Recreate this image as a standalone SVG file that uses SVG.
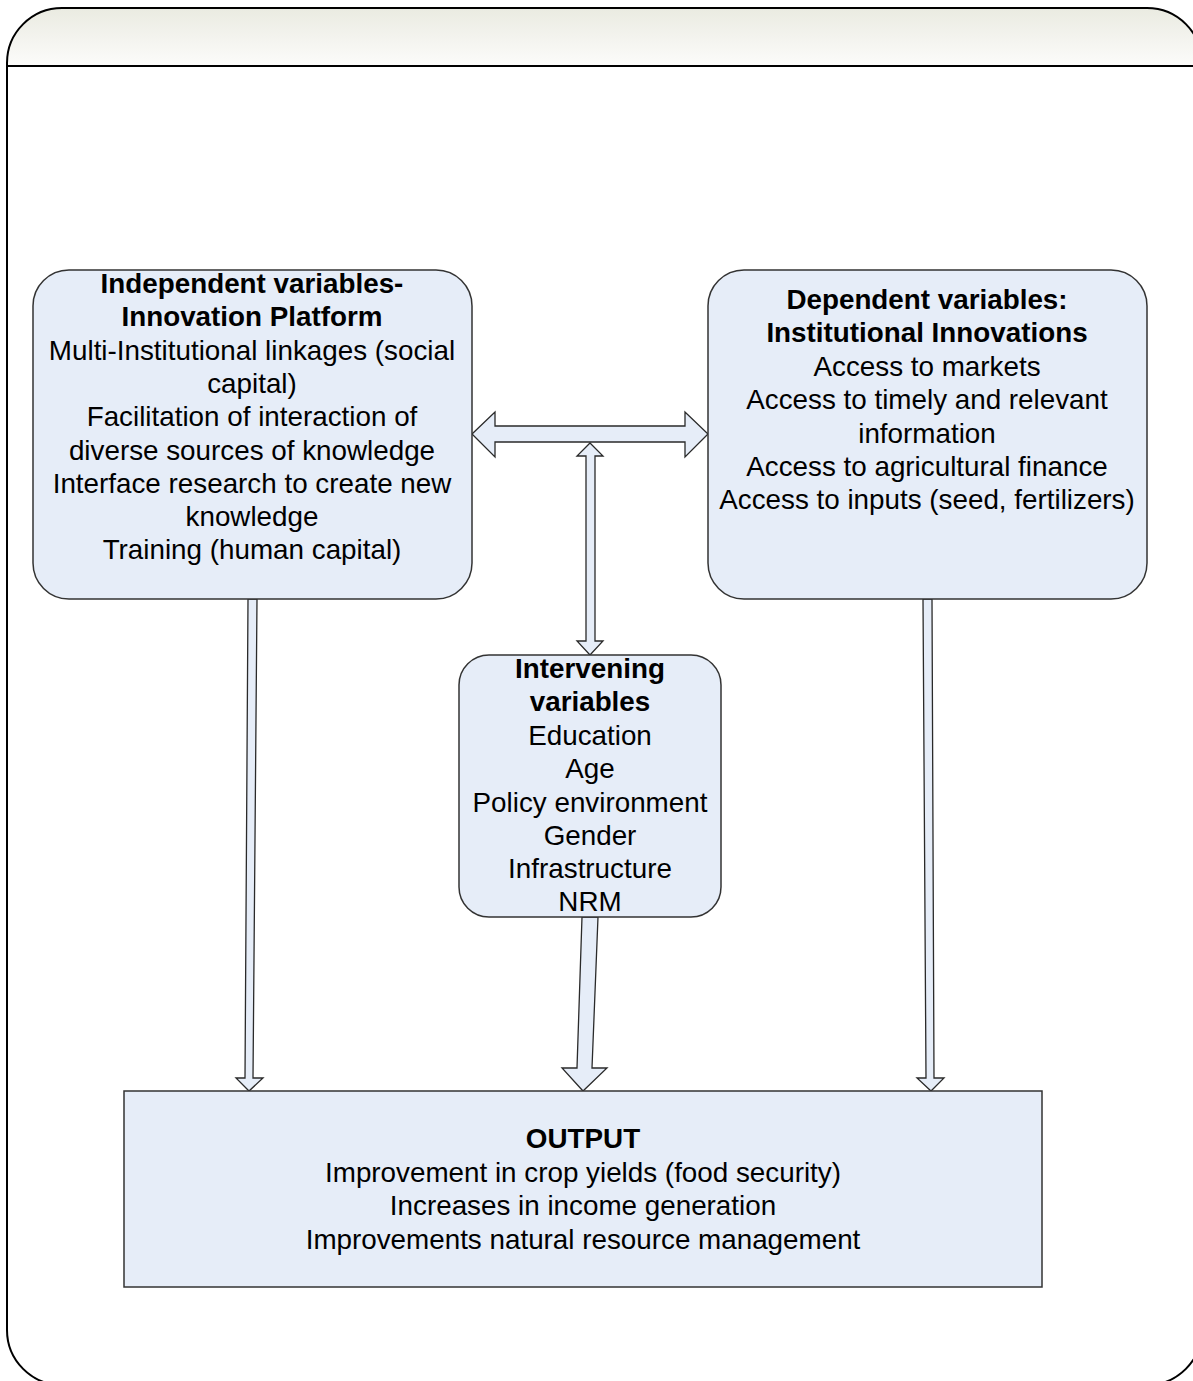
<svg xmlns="http://www.w3.org/2000/svg" width="1193" height="1381" viewBox="0 0 1193 1381">
<defs>
<linearGradient id="hdr" gradientUnits="userSpaceOnUse" x1="0" y1="8" x2="0" y2="66">
<stop offset="0" stop-color="#eaebe1"/>
<stop offset="0.5" stop-color="#f3f3ee"/>
<stop offset="1" stop-color="#fcfcfa"/>
</linearGradient>
<clipPath id="hclip"><rect x="0" y="0" width="1300" height="66"/></clipPath>
</defs>
<style>
.box{fill:#e6edf8;stroke:#333333;stroke-width:1.5}
.arr{fill:#e6edf8;stroke:#2a2a2a;stroke-width:1.3;stroke-linejoin:miter}
text{font-family:"Liberation Sans",Arial,sans-serif;font-size:27.8px;fill:#000;text-anchor:middle}
.b{font-weight:bold}
</style>
<g id="frame">
<rect x="7" y="8" width="1195" height="1377" rx="55" ry="55" fill="#ffffff"/>
<rect x="7" y="8" width="1195" height="1377" rx="55" ry="55" fill="url(#hdr)" clip-path="url(#hclip)"/>
<rect x="7" y="8" width="1195" height="1377" rx="55" ry="55" fill="none" stroke="#000" stroke-width="2"/>
<line x1="7" y1="66" x2="1202" y2="66" stroke="#000" stroke-width="2"/>
</g>
<g id="connectors">
<polygon class="arr" points="472,434 495,412 495,426 685,426 685,412 708,434 685,457 685,442 495,442 495,457"/>
<polygon class="arr" points="590,443 603,456 595,456 595,641 603,641 590,655 577,641 586,641 586,456 577,456"/>
<polygon class="arr" points="248,599 257,599 253,1078 263,1078 249,1091 236,1078 245,1078"/>
<polygon class="arr" points="582,917 598,917 592,1068 607,1068 583,1091 562,1068 577,1068"/>
<polygon class="arr" points="923,599 932,599 934,1078 944,1078 931,1091 917,1078 926,1078"/>
</g>
<g id="independent">
<rect class="box" x="33" y="270" width="439" height="329" rx="36" ry="36"/>
<text class="b" x="252" y="293">Independent variables-</text>
<text class="b" x="252" y="326">Innovation Platform</text>
<text x="252" y="360">Multi-Institutional linkages (social</text>
<text x="252" y="393">capital)</text>
<text x="252" y="426">Facilitation of interaction of</text>
<text x="252" y="460">diverse sources of knowledge</text>
<text x="252" y="493">Interface research to create new</text>
<text x="252" y="526">knowledge</text>
<text x="252" y="559">Training (human capital)</text>
</g>
<g id="dependent">
<rect class="box" x="708" y="270" width="439" height="329" rx="36" ry="36"/>
<text class="b" x="927" y="309">Dependent variables:</text>
<text class="b" x="927" y="342">Institutional Innovations</text>
<text x="927" y="376">Access to markets</text>
<text x="927" y="409">Access to timely and relevant</text>
<text x="927" y="443">information</text>
<text x="927" y="476">Access to agricultural finance</text>
<text x="927" y="509">Access to inputs (seed, fertilizers)</text>
</g>
<g id="intervening">
<rect class="box" x="459" y="655" width="262" height="262" rx="30" ry="30"/>
<text class="b" x="590" y="678">Intervening</text>
<text class="b" x="590" y="711">variables</text>
<text x="590" y="745">Education</text>
<text x="590" y="778">Age</text>
<text x="590" y="812">Policy environment</text>
<text x="590" y="845">Gender</text>
<text x="590" y="878">Infrastructure</text>
<text x="590" y="911">NRM</text>
</g>
<g id="output">
<rect class="box" x="124" y="1091" width="918" height="196"/>
<text class="b" x="583" y="1148">OUTPUT</text>
<text x="583" y="1182">Improvement in crop yields (food security)</text>
<text x="583" y="1215">Increases in income generation</text>
<text x="583" y="1249">Improvements natural resource management</text>
</g>
</svg>
